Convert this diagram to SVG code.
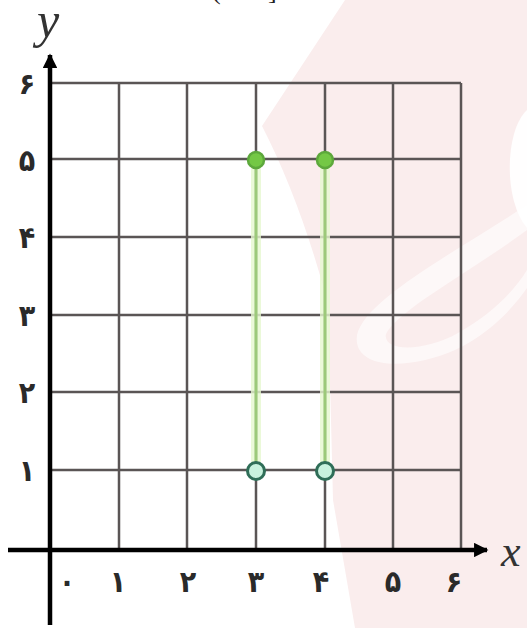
<svg xmlns="http://www.w3.org/2000/svg" width="527" height="628" viewBox="0 0 527 628">
<style>
.grid{stroke:#5a5555;stroke-width:2.5;fill:none}
.axis{stroke:#000;stroke-width:4.5;fill:none}
.lbl{font-family:"DejaVu Sans Condensed","DejaVu Sans",sans-serif;font-size:30px;font-weight:bold;fill:#2a2a2a;text-anchor:middle}
.var{font-family:"Liberation Serif",serif;font-style:italic;fill:#333}
.seg{stroke:#9cc97a;stroke-width:3;fill:none}
.halo{stroke:#e6f7cf;stroke-width:10;fill:none;opacity:0.8}
.closed{fill:#74c845;stroke:#5da83c;stroke-width:2.5}
.open{fill:#c8f2de;stroke:#2f6e58;stroke-width:3}
</style>
<defs>
<marker id="arr" viewBox="0 0 10 10" refX="9" refY="5" markerWidth="4" markerHeight="3.2" markerUnits="strokeWidth" orient="auto">
<path d="M0,0 L10,5 L0,10 Z" fill="#000"/>
</marker>
</defs>
<rect width="527" height="628" fill="#fff"/>
<g id="watermark">
<path d="M345,0 L262,126 Q300,200 327,300 Q331,400 333,500 L355,628 L527,628 L527,0 Z" fill="#faeded"/>
<path d="M527,110 C505,130 503,200 527,228 Z" fill="#fff" opacity="0.9"/>
<path d="M527,205 C450,255 365,300 357,335 C352,368 405,372 455,350 C492,333 515,305 527,288 Z" fill="#fff" opacity="0.6"/>
<path d="M527,230 C470,272 398,310 386,334 C382,352 425,352 458,333 C492,314 515,290 527,270 Z" fill="#faeded"/>
</g>
<g id="topText" font-family="Liberation Serif, serif" font-size="26" fill="#222">
<text x="212" y="-1">(</text>
<text x="268" y="-1">]</text>
</g>
<g id="grid" class="grid">
<line x1="50" y1="83" x2="461" y2="83"/>
<line x1="50" y1="159" x2="461" y2="159"/>
<line x1="50" y1="237" x2="461" y2="237"/>
<line x1="50" y1="315" x2="461" y2="315"/>
<line x1="50" y1="392" x2="461" y2="392"/>
<line x1="50" y1="470" x2="461" y2="470"/>
<line x1="119" y1="83" x2="119" y2="550"/>
<line x1="187" y1="83" x2="187" y2="550"/>
<line x1="256" y1="83" x2="256" y2="550"/>
<line x1="325" y1="83" x2="325" y2="550"/>
<line x1="393" y1="83" x2="393" y2="550"/>
<line x1="461" y1="83" x2="461" y2="550"/>
</g>
<g id="axes">
<line class="axis" x1="8" y1="550" x2="487" y2="550" marker-end="url(#arr)"/>
<line class="axis" x1="50" y1="625" x2="50" y2="55" marker-end="url(#arr)"/>
<text class="var" x="37" y="37" font-size="50">y</text>
<text class="var" x="501" y="566" font-size="44">x</text>
</g>
<g id="yLabels" class="lbl">
<text x="27" y="94">۶</text>
<text x="27" y="171">۵</text>
<text x="27" y="248">۴</text>
<text x="27" y="326">۳</text>
<text x="27" y="403">۲</text>
<text x="27" y="481">۱</text>
</g>
<g id="xLabels" class="lbl">
<text x="67" y="592">۰</text>
<text x="118" y="592">۱</text>
<text x="188" y="592">۲</text>
<text x="256" y="592">۳</text>
<text x="321" y="592">۴</text>
<text x="393" y="592">۵</text>
<text x="454" y="592">۶</text>
</g>
<g id="connectors">
<line class="halo" x1="256" y1="159" x2="256" y2="470"/>
<line class="halo" x1="325" y1="159" x2="325" y2="470"/>
<line class="seg" x1="256" y1="159" x2="256" y2="470"/>
<line class="seg" x1="325" y1="159" x2="325" y2="470"/>
</g>
<g id="p35"><circle class="closed" cx="256" cy="160" r="8"/></g>
<g id="p45"><circle class="closed" cx="325" cy="160" r="8"/></g>
<g id="p31"><circle class="open" cx="256" cy="471" r="8.5"/></g>
<g id="p41"><circle class="open" cx="325" cy="471" r="8.5"/></g>
</svg>
